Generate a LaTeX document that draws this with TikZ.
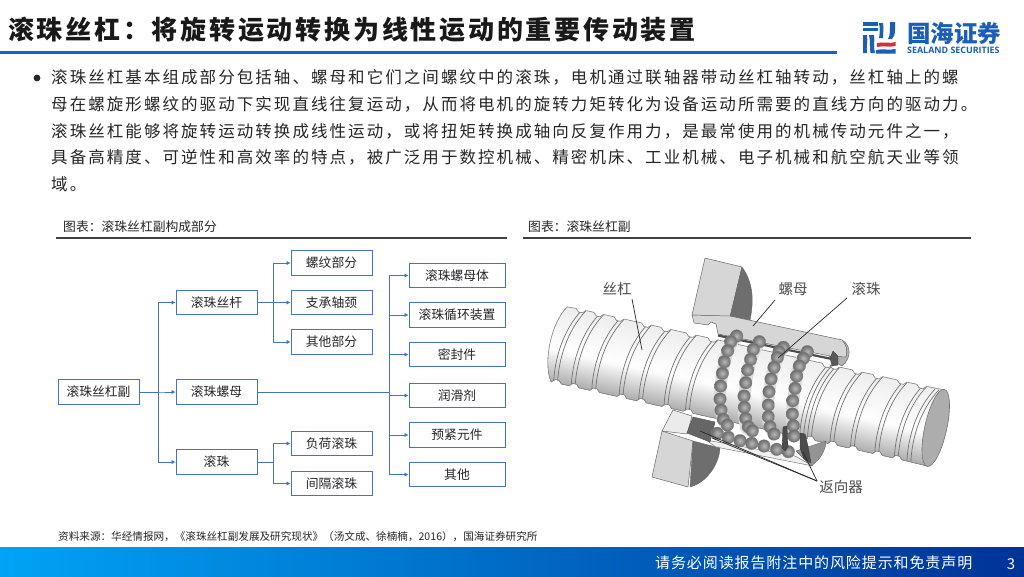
\documentclass[tikz,border=0pt]{standalone}
\usepackage{fontspec}
\usetikzlibrary{arrows.meta,calc}
\setmainfont{Noto Sans CJK SC}
\newfontfamily\titlefont[LetterSpace=10.6]{Noto Sans CJK SC}
\newfontfamily\bodyfont[LetterSpace=12.5]{Noto Sans CJK SC}
\newfontfamily\footfont[LetterSpace=6]{Noto Sans CJK SC}
\newfontfamily\latinlogo{Open Sans}
\definecolor{barblue}{HTML}{1565C8}
\definecolor{boxblue}{HTML}{4472C4}
\definecolor{logoblue}{HTML}{1A5FB4}
\definecolor{logored}{HTML}{D8303A}
\definecolor{ink}{HTML}{262626}
\definecolor{cutgray}{HTML}{D6D6D6}
\definecolor{darkgray}{HTML}{6E6E6E}
\tikzset{
  fbox/.style={draw=boxblue,line width=1pt,fill=white,minimum height=24.5pt,inner sep=0pt,text=ink,font=\fontsize{12.8}{13}\selectfont},
  fboxa/.style={fbox,minimum width=81pt},
  fboxb/.style={fbox,minimum width=96pt},
  conn/.style={draw=boxblue,line width=0.9pt,-{Latex[length=4pt,width=4.5pt]}},
  bodyline/.style={anchor=west,inner sep=0pt,text=ink,font=\bodyfont\fontsize{16.5}{17}\selectfont},
  headline/.style={anchor=west,inner sep=0pt,text=ink,font=\fontsize{12.8}{13}\selectfont},
  hrule/.style={draw=black!75,line width=2pt},
  piclabel/.style={inner sep=0pt,text=black!70,font=\fontsize{14.5}{15}\selectfont},
  leader/.style={draw=black!85,line width=0.7pt},
  ball/.style={shade,inner color=black!28,outer color=black!58,draw=black!50,line width=0.3pt},
  cutface/.style={fill=cutgray,draw=black!60,line width=0.5pt,line join=round},
  darkface/.style={fill=darkgray,draw=black!60,line width=0.4pt,line join=round},
  groove/.style={draw=black!55,line width=0.7pt},
  ringback/.style={draw=black!14,line width=12pt,line cap=round}
}
\def\screwpath{(0,-38) foreach \g in {12,30,51,79,99,125,147,264,272,295,316,341,361} {-- ({\g-3},-38.5) -- (\g,-35.5) -- ({\g+4},-35.5) -- ({\g+7},-38.5)} -- (386,-39) -- (386,39) foreach \g in {361,341,316,295,272,264,147,125,99,79,51,30,12} {-- ({\g-1},38.5) -- ({\g-4},35.5) -- ({\g-8},35.5) -- ({\g-11},38.5)} -- (0,38) .. controls (-12,20) and (-12,-20) .. (0,-38) -- cycle}
\begin{document}
\begin{tikzpicture}[x=1pt,y=-1pt]
\useasboundingbox (0,0) rectangle (1024,576);
\fill[white] (0,0) rectangle (1024,576);
% title
\node[anchor=west,inner sep=0pt,text=black!90,font=\titlefont\bfseries\fontsize{26}{27}\selectfont] (title) at (8,30) {滚珠丝杠：将旋转运动转换为线性运动的重要传动装置};
\fill[barblue] (0,51.2) rectangle (837,54.4);
% logo
\fill[logoblue] (863,22) rectangle (878,25.5);
\fill[logoblue] (863,27.5) rectangle (878,31);
\fill[logoblue] (863,35) -- (867,35) .. controls (868,41) and (866,47) .. (867,53) -- (863,53) -- cycle;
\fill[logoblue] (869,35) -- (874,35) .. controls (875,41) and (873,47) .. (875,53) -- (870.5,53) .. controls (869.5,47) and (870.5,41) .. (869,35) -- cycle;
\fill[logoblue] (879,23) -- (883,23) .. controls (884,28) and (883,33) .. (883,38) -- (879,38) .. controls (880,33) and (880,28) .. (879,23) -- cycle;
\fill[logoblue] (890,22) -- (895,22) -- (895,30) .. controls (895,34) and (894,37) .. (892,39) -- (888,39) .. controls (890,36) and (890,32) .. (890,22) -- cycle;
\fill[logored] (877,43) .. controls (884,41.5) and (889,44) .. (895.5,42) -- (895.5,46) .. controls (889,47.5) and (884,45.5) .. (877,47) -- cycle;
\fill[logoblue] (876,50) .. controls (884,48.5) and (889,50.5) .. (895.5,49) -- (895.5,53.5) -- (876,53.5) -- cycle;
\node[anchor=west,inner sep=0pt,text=logoblue,font=\bfseries\fontsize{23.5}{24}\selectfont] (logocn) at (907,33) {国海证券};
\node[anchor=west,inner sep=0pt,text=logoblue,font=\latinlogo\bfseries\fontsize{8.9}{9}\selectfont] (logoen) at (907,50.5) {SEALAND SECURITIES};
% body
\fill[black!85] (37,78) circle (3.4);
\node[bodyline] (l1) at (51,77) {滚珠丝杠基本组成部分包括轴、螺母和它们之间螺纹中的滚珠，电机通过联轴器带动丝杠轴转动，丝杠轴上的螺};
\node[bodyline] (l2) at (51,104) {母在螺旋形螺纹的驱动下实现直线往复运动，从而将电机的旋转力矩转化为设备运动所需要的直线方向的驱动力。};
\node[bodyline] (l3) at (51,131) {滚珠丝杠能够将旋转运动转换成线性运动，或将扭矩转换成轴向反复作用力，是最常使用的机械传动元件之一，};
\node[bodyline] (l4) at (51,157.5) {具备高精度、可逆性和高效率的特点，被广泛用于数控机械、精密机床、工业机械、电子机械和航空航天业等领};
\node[bodyline] (l5) at (51,184.5) {域。};
% headers
\node[headline] (h1) at (63,227) {图表：滚珠丝杠副构成部分};
\node[headline] (h2) at (528,227) {图表：滚珠丝杠副};
\draw[hrule] (56,237.7) -- (507,237.7);
\draw[hrule] (523,237.7) -- (971,237.7);
% flow chart
\coordinate (t1) at (158,392);
\coordinate (t2) at (273,300);
\coordinate (t3) at (389,392);
\node[fboxa] (root) at (98.5,392) {滚珠丝杠副};
\node[fboxa] (a) at (216.5,302.5) {滚珠丝杆};
\node[fboxa] (b) at (216.5,392) {滚珠螺母};
\node[fboxa] (c) at (216.5,462) {滚珠};
\node[fboxa] (a1) at (331.5,263) {螺纹部分};
\node[fboxa] (a2) at (331.5,302.5) {支承轴颈};
\node[fboxa] (a3) at (331.5,342) {其他部分};
\node[fboxa] (c1) at (331.5,443.5) {负荷滚珠};
\node[fboxa] (c2) at (331.5,483.5) {间隔滚珠};
\node[fboxb] (b1) at (457,275.5) {滚珠螺母体};
\node[fboxb] (b2) at (457,315) {滚珠循环装置};
\node[fboxb] (b3) at (457,354.5) {密封件};
\node[fboxb] (b4) at (457,395.5) {润滑剂};
\node[fboxb] (b5) at (457,435) {预紧元件};
\node[fboxb] (b6) at (457,474.5) {其他};
\foreach \n in {a,b,c} \draw[conn] (root.east) -- (root.east -| t1) |- (\n.west);
\foreach \n in {a1,a2,a3} \draw[conn] (a.east) -- (a.east -| t2) |- (\n.west);
\foreach \n in {c1,c2} \draw[conn] (c.east) -- (c.east -| t2) |- (\n.west);
\foreach \n in {b1,b2,b3,b4,b5,b6} \draw[conn] (b.east) -- (b.east -| t3) |- (\n.west);
% ball screw illustration
\begin{scope}[shift={(559,344)},rotate=-12.56]
  \begin{scope}
    \clip \screwpath;
    \foreach \v in {-42,-40,...,42} {
      \pgfmathsetmacro\p{\v<5 ? 7*(5-\v)/45 : 34*((\v-5)/35)}
      \fill[black!\p!white] (-15,\v) rectangle (390,44);
    }
    \foreach \g in {12,30,51,79,99,125,147,264,272,295,316,341,361,374} {
      \draw[groove] ({\g+3},-38) .. controls ({\g-11},-15) and ({\g-13},15) .. ({\g-9},38);
      \draw[groove] ({\g+7},-38) .. controls ({\g-7},-15) and ({\g-9},15) .. ({\g-5},38);
    }
  \end{scope}
  \draw[draw=black!50,line width=0.6pt,line join=round] \screwpath;
  \draw[fill=black!32,draw=black!55,line width=0.6pt] (386,0) ellipse (11 and 39.5);
\end{scope}
% grooves carrying the balls
\draw[ringback] plot[smooth] coordinates {(737,336) (728,350) (722,375) (720,399) (723,420) (728,425)};
\draw[ringback] plot[smooth] coordinates {(759,342) (751,359) (746,383) (744,407) (746,427) (752,431)};
\draw[ringback] plot[smooth] coordinates {(783,347) (774,367) (769,392) (768,417) (770,427) (774,434)};
\draw[ringback] plot[smooth] coordinates {(807,352) (799,366) (795,388) (792,414) (794,436)};
% upper nut
\path[fill=cutgray,draw=black!60,line width=0.5pt,line join=round] (705,258) -- (742,267) -- (730,317) -- (692,315) -- cycle;
\path[darkface] (742,267) .. controls (755,285) and (753,305) .. (750,320) -- (730,317) -- cycle;
\path[fill=black!30,draw=black!60,line width=0.4pt] (842,340) .. controls (851,345) and (852,358) .. (842,366) -- (828,358) -- cycle;
\path[cutface] (692,315) -- (730,316) -- (842,340) .. controls (846,344) and (848,350) .. (846,357) -- (830,356) -- (718,334) -- (716,324) -- (711,322) -- (708,325) -- (694,323) -- cycle;
\draw[draw=black!70,line width=2.2pt] (718,335.5) -- (832,359);
\path[fill=black!65,draw=black!75,line width=0.3pt,line join=round] (830,358) -- (833,351) -- (838,356) -- (838,365) -- (832,366) -- cycle;
% lower nut
\path[fill=black!8,draw=black!60,line width=0.5pt,line join=round] (662,431) -- (673,410) -- (692,416) -- (687,434) -- cycle;
\path[cutface] (662,431) -- (693,441) -- (688,487) -- (652,477) -- cycle;
\path[darkface] (693,441) -- (720,448) .. controls (719,465) and (706,483) .. (690,487) -- cycle;
\path[fill=black!6,draw=black!60,line width=0.4pt,line join=round] (706,440) -- (795,456) -- (813,466) -- (716,447) -- cycle;
\path[fill=black!42,draw=black!60,line width=0.4pt] (796,451) -- (826,441) .. controls (826,450) and (820,460) .. (811,466) -- cycle;
\path[fill=black!60,draw=black!70,line width=0.4pt,line join=round] (687,433) -- (693,417) -- (715,422) -- (710,442) -- cycle;
% balls
\foreach \X/\Y in {82/370,115/382,150/392,185/400,222/408,260/418,295/425,
  140/78,122/95,113/122,103/155,97/190,92/228,90/267,93/300,100/328,112/345,
  208/95,190/118,182/148,173/180,167/218,162/258,163/292,167/325,175/350,187/362,
  280/112,267/125,262/142,252/172,243/207,237/245,235/285,235/320,240/350,252/372,
  352/125,340/145,328/168,320/198,315/235,308/272,307/312,310/347,312/378}
  \path[ball] ({690+\X/3},{310+\Y/3}) circle (6.3);
% return pieces
\path[fill=black!70,draw=black!80,line width=0.3pt,line join=round] (783,427) -- (787,426) -- (788,447) -- (785,451) -- (782,448) -- cycle;
\path[fill=black!70,draw=black!80,line width=0.3pt,line join=round] (800,433) -- (805,434) -- (808,446) -- (811,463) -- (804,459) -- (800,448) -- cycle;
% labels and leaders
\node[piclabel] (lsg) at (617,289) {丝杠};
\node[piclabel] (lnut) at (793,289) {螺母};
\node[piclabel] (lball) at (866,289) {滚珠};
\node[piclabel] (lret) at (841,487) {返向器};
\coordinate (sg0) at (632,299); \coordinate (sg1) at (642,350);
\coordinate (nt0) at (775,300); \coordinate (nt1) at (753,326);
\coordinate (bl0) at (847,298); \coordinate (bl1) at (778,358);
\coordinate (rt0) at (817,481); \coordinate (rt1) at (700,431);
\coordinate (rt2) at (712,438); \coordinate (rt3) at (803,452);
\draw[leader] (sg0) -- (sg1);
\draw[leader] (nt0) -- (nt1);
\draw[leader] (bl0) -- (bl1);
\draw[leader] (rt0) -- (rt1);
\draw[leader] (rt0) -- (rt2);
\draw[leader] (rt0) -- (rt3);
% source
\node[anchor=west,inner sep=0pt,text=ink,font=\fontsize{10.6}{11}\selectfont] (src) at (58,537) {资料来源：华经情报网，《滚珠丝杠副发展及研究现状》（汤文成、徐楠楠，2016），国海证券研究所};
% footer
\shade[left color={rgb,255:red,0;green,163;blue,245},right color={rgb,255:red,0;green,50;blue,150}] (0,547) rectangle (1024,576);
\node[anchor=west,inner sep=0pt,text=white,font=\footfont\fontsize{15}{16}\selectfont] (disc) at (655,563) {请务必阅读报告附注中的风险提示和免责声明};
\node[inner sep=0pt,text=white,font=\fontsize{15}{16}\selectfont] (pg) at (1011,564) {3};
\end{tikzpicture}
\end{document}
